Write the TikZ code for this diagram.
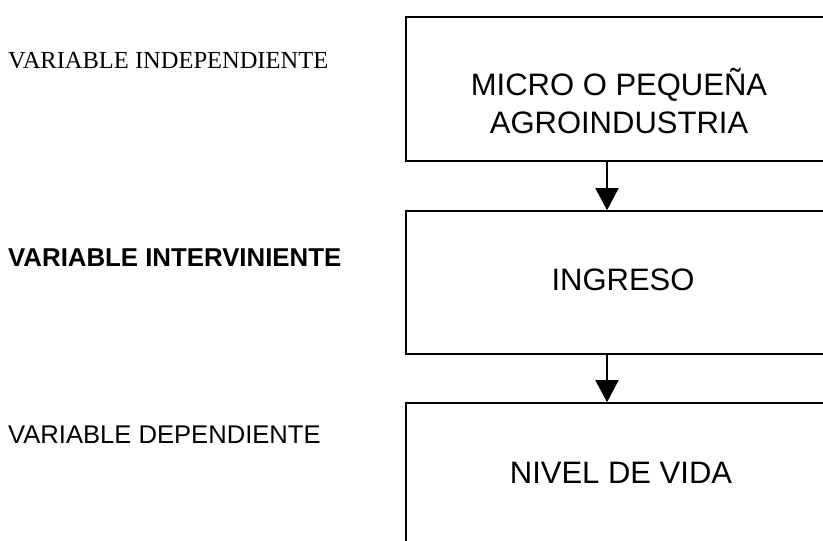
\documentclass[tikz,border=0pt]{standalone}
\usepackage{fontspec}
\usepackage{tikz}
\usetikzlibrary{arrows.meta}
\newfontfamily\arialfont{Liberation Sans}
\newfontfamily\timesfont{Liberation Serif}
\tikzset{
  varbox/.style={draw, line width=1.6pt, minimum width=434pt, minimum height=144pt},
  boxtext/.style={font=\arialfont\fontsize{31}{38}\selectfont, align=center, inner sep=0pt},
  varlabel/.style={anchor=base west, inner sep=0pt},
  flow/.style={line width=1.6pt, -{Triangle[length=22pt, width=23pt]}}
}

\begin{document}
\begin{tikzpicture}[x=1pt, y=-1pt]%
\useasboundingbox (0,0) rectangle (823,541);%
\clip (0,0) rectangle (823,541);%
% boxes
\node[varbox] (micro) at (623, 89) {};%
\node[varbox, minimum height=143pt] (ingreso) at (623, 282.5) {};%
\node[varbox] (nivel) at (623, 475) {};%
\node[boxtext, anchor=base] (microtxt) at (619, 133) {MICRO O PEQUEÑA\\AGROINDUSTRIA};%
\node[boxtext, anchor=base] (ingresotxt) at (623, 290) {INGRESO};%
\node[boxtext, anchor=base] (niveltxt) at (621, 483) {NIVEL DE VIDA};%
% labels on the left
\node[varlabel, font=\timesfont\fontsize{24.5}{29}\selectfont] (indep) at (8, 68) {VARIABLE INDEPENDIENTE};%
\node[varlabel, font=\arialfont\bfseries\fontsize{25.8}{30}\selectfont] (interv) at (8, 266) {VARIABLE INTERVINIENTE};%
\node[varlabel, font=\arialfont\fontsize{25.6}{30}\selectfont] (dep) at (8, 443) {VARIABLE DEPENDIENTE};%
% arrows
\draw[flow] (micro.south -| 607,0) -- (ingreso.north -| 607,0);%
\draw[flow] (ingreso.south -| 607,0) -- (nivel.north -| 607,0);%
\end{tikzpicture}
\end{document}
